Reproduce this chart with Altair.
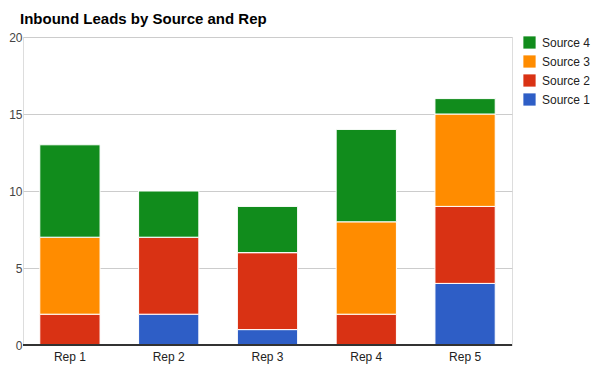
import altair as alt
import pandas as pd

reps = ["Rep 1", "Rep 2", "Rep 3", "Rep 4", "Rep 5"]
sources = ["Source 1", "Source 2", "Source 3", "Source 4"]
source1 = [0, 2, 1, 0, 4]
source2 = [2, 5, 5, 2, 5]
source3 = [5, 0, 0, 6, 6]
source4 = [6, 3, 3, 6, 1]
colors = ["#2e5ec6", "#d93214", "#ff8c00", "#118c1c"]

rows = []
for s, vals in zip(sources, [source1, source2, source3, source4]):
    for r, v in zip(reps, vals):
        rows.append({"Rep": r, "Source": s, "Leads": v, "order": sources.index(s)})
df = pd.DataFrame(rows)

font = "Arial, Liberation Sans, sans-serif"

bars = alt.Chart(df).mark_bar(stroke="white", strokeWidth=1).encode(
    x=alt.X("Rep:N", sort=reps, title=None,
            scale=alt.Scale(paddingInner=0.39, paddingOuter=0.17),
            axis=alt.Axis(labelAngle=0, domain=False, ticks=False, labelPadding=6,
                          labelFontSize=12, labelColor="#222", labelFont=font)),
    y=alt.Y("Leads:Q", stack="zero", title=None,
            scale=alt.Scale(domain=[0, 20], nice=False),
            axis=alt.Axis(values=[0, 5, 10, 15, 20], domain=False, ticks=False,
                          gridColor="#cccccc", labelPadding=1, labelFontSize=12,
                          labelColor="#444", labelFont=font)),
    color=alt.Color("Source:N",
                    scale=alt.Scale(domain=sources[::-1], range=colors[::-1]),
                    legend=alt.Legend(title=None, orient="none", legendX=500, legendY=-1,
                                      symbolType="square", symbolSize=150,
                                      symbolStrokeWidth=0, rowPadding=6,
                                      labelFontSize=12, labelColor="#222", labelFont=font,
                                      labelOffset=6)),
    order=alt.Order("order:Q", sort="ascending"),
)

baseline = alt.Chart(df).mark_rule(color="#333", strokeWidth=1).encode(
    y=alt.datum(0)
)

chart = (bars + baseline).properties(
    width=489, height=308,
    autosize=alt.AutoSizeParams(type="none"),
    padding={"left": 15, "top": 29, "right": 80, "bottom": 30},
    title=alt.TitleParams("Inbound Leads by Source and Rep", anchor="start", frame="group",
                          font=font, fontSize=15, fontWeight="bold", color="#000",
                          offset=4, dx=-3),
).configure_view(stroke=None).configure(background="white")

chart.save("out.html", embed_options={"renderer": "svg", "actions": False})
